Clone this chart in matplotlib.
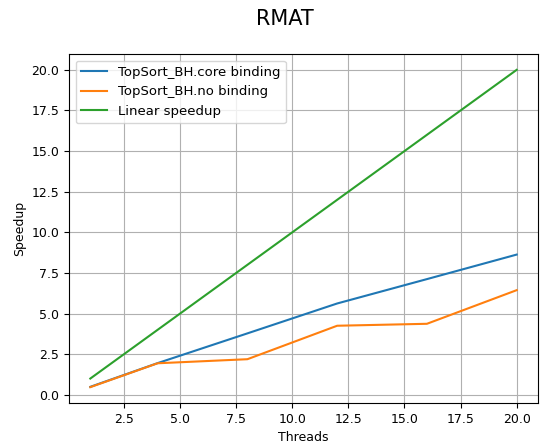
import matplotlib
matplotlib.use('Agg')
import matplotlib.pyplot as plt

threads = [1, 4, 8, 12, 16, 20]
core_binding = [0.49, 1.95, 3.78, 5.62, 7.12, 8.63]
no_binding = [0.47, 1.94, 2.19, 4.25, 4.37, 6.44]
linear = [1, 4, 8, 12, 16, 20]

plt.rcParams['font.size'] = 9

fig, ax = plt.subplots(figsize=(5.42, 4.48), dpi=100)
ax.plot(threads, core_binding, label='TopSort_BH.core binding')
ax.plot(threads, no_binding, label='TopSort_BH.no binding')
ax.plot(threads, linear, label='Linear speedup')

ax.set_xlabel('Threads', fontsize=9)
ax.set_ylabel('Speedup', fontsize=9)
ax.tick_params(labelsize=9)
ax.grid(True)
ax.legend(loc='upper left', fontsize=9.5)
fig.text(0.526, 1 - 25 / 448, 'RMAT', ha='center', va='baseline', fontsize=15)

fig.subplots_adjust(left=0.1273, right=0.9926, top=0.8795, bottom=0.1004)
fig.savefig('out.png', dpi=100)
plt.close(fig)
